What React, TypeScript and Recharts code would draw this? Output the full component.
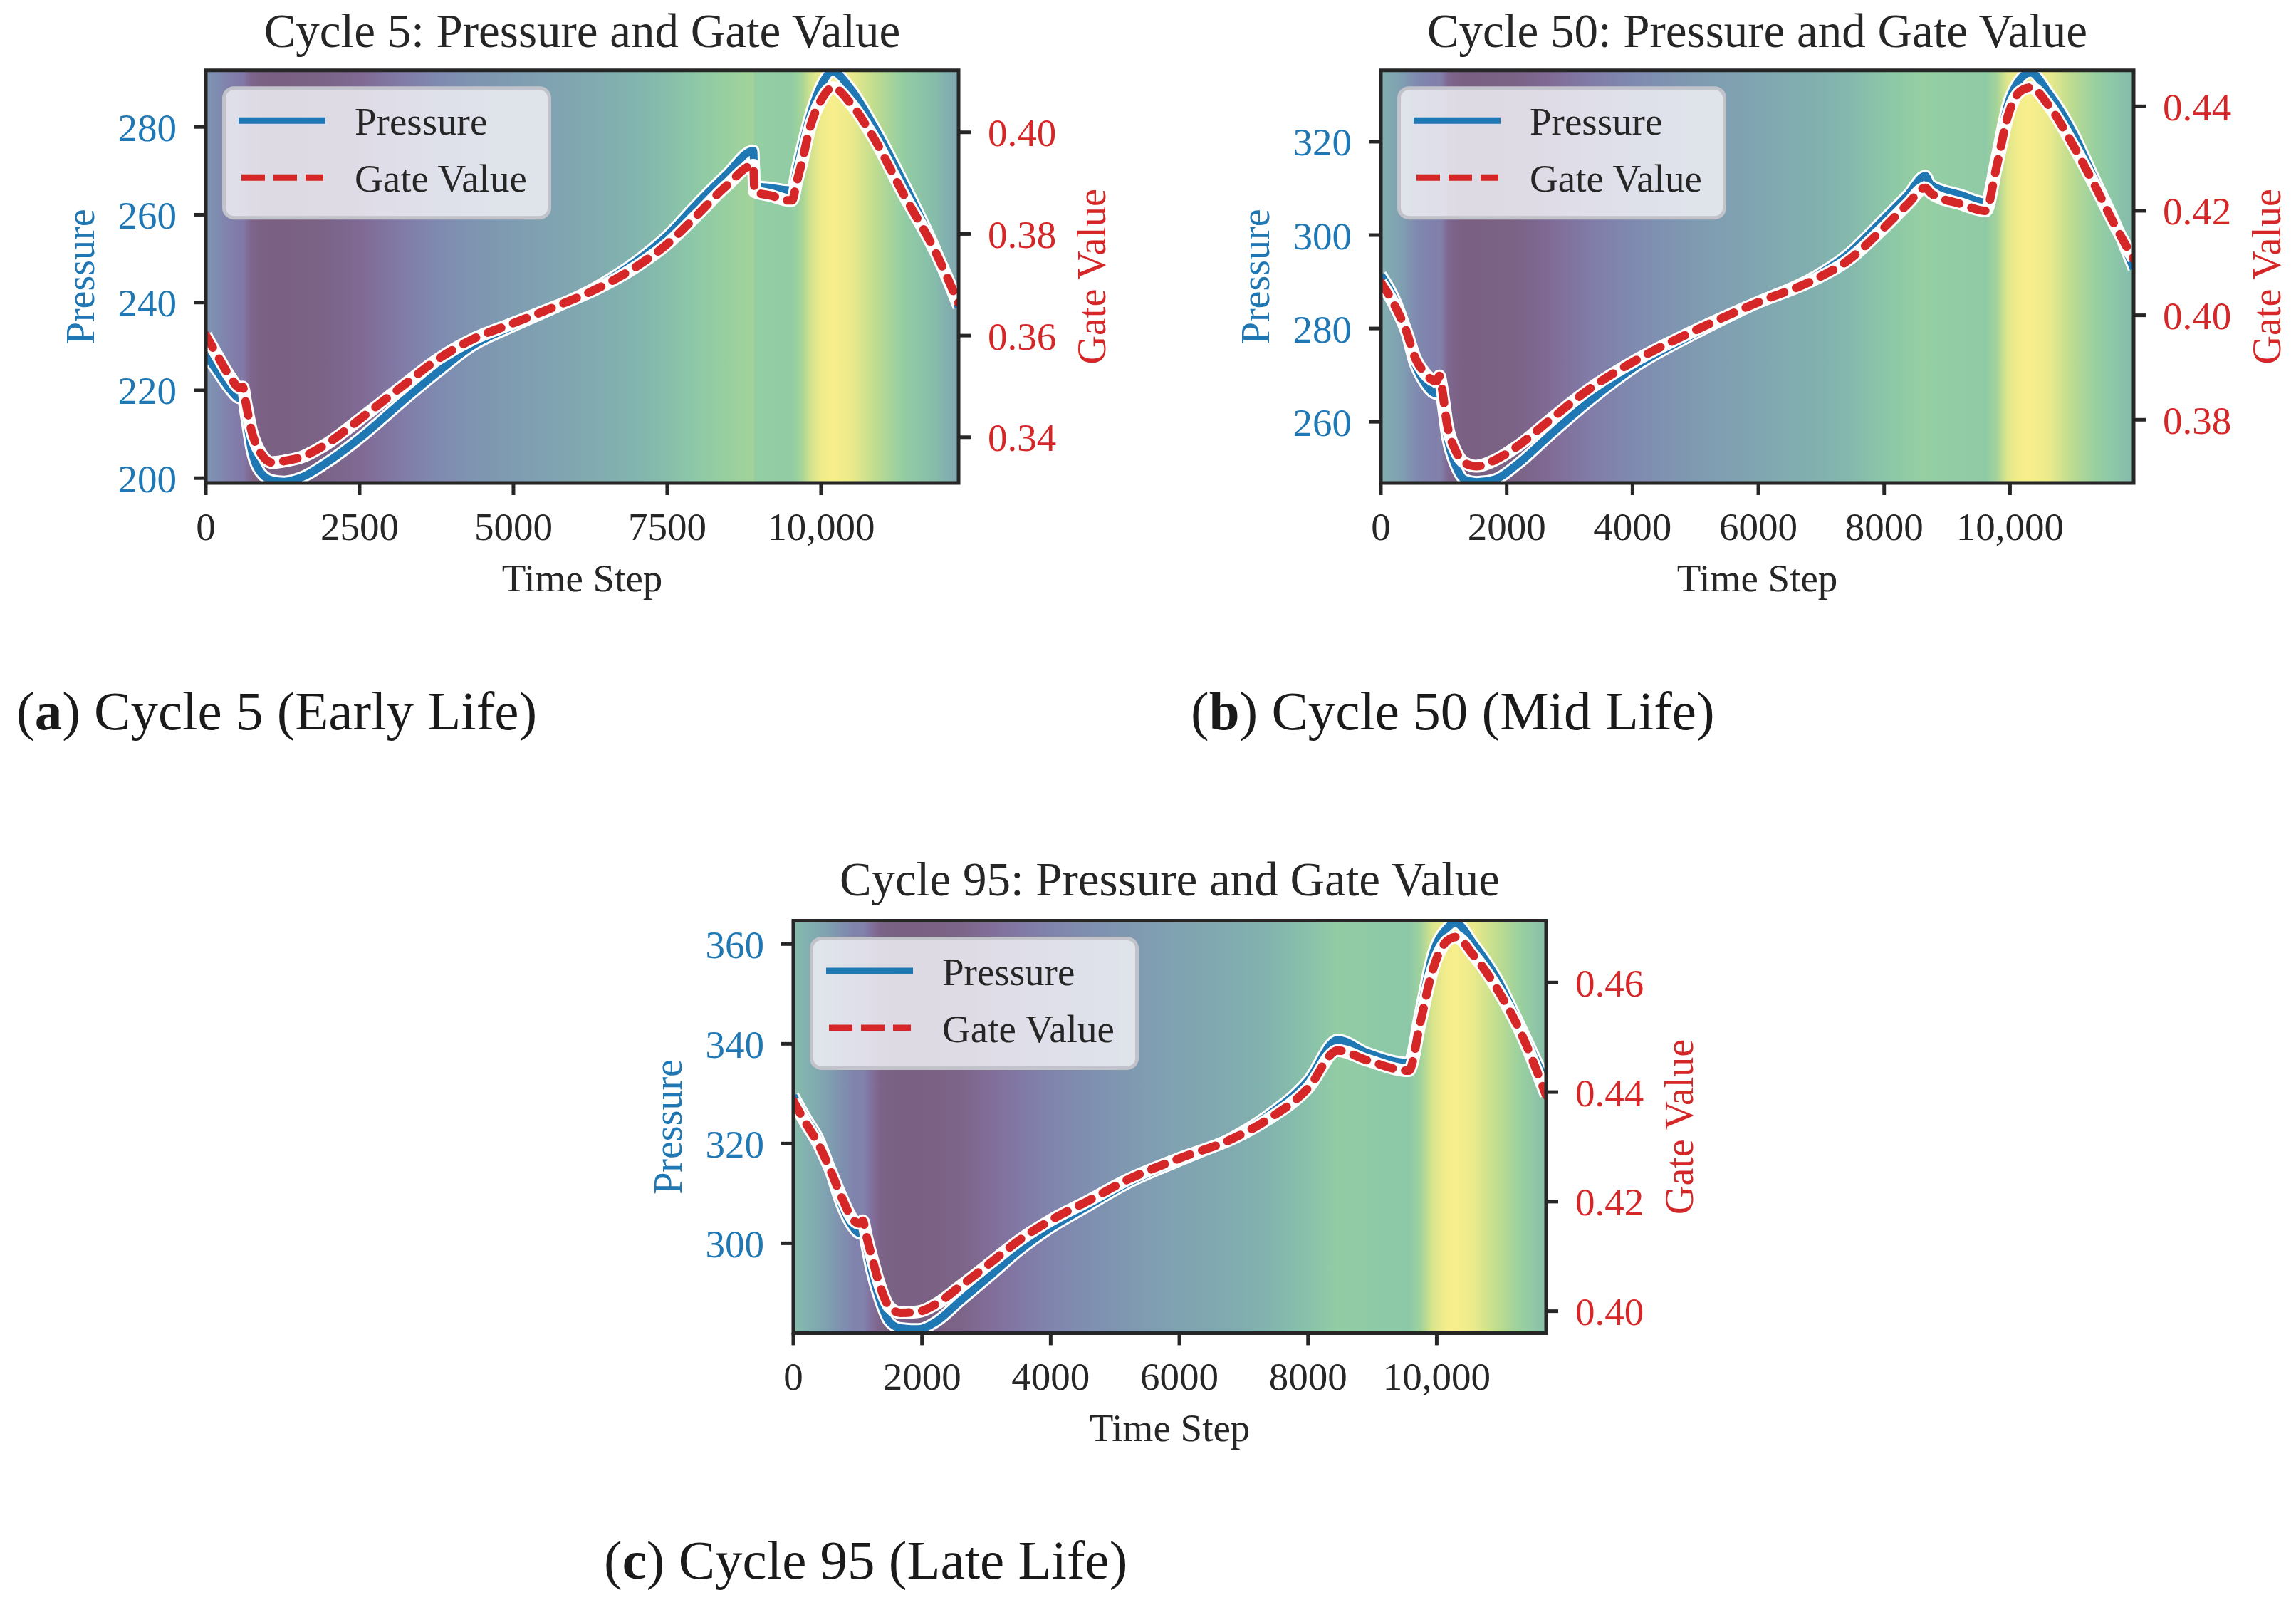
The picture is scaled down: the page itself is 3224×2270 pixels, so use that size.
import React from 'react';
import { LineChart, Line, XAxis, YAxis, ReferenceArea } from 'recharts';

// ---------------- DATA ----------------
// Cycle 5 (Early Life)
const cycle5Time = [0, 200, 400, 550, 600, 650, 740, 890, 1080, 1270, 1560, 1940, 2520, 3190, 3765, 4340, 4990, 5680, 6355, 7025, 7490, 7985, 8465, 8900, 8920, 9200, 9470, 9530, 9600, 9700, 9810, 10000, 10190, 10480, 10865, 11345, 11825, 12235];
const cycle5Pressure = [228.0, 224.1, 220.1, 218.2, 218.4, 214.5, 206.7, 201.3, 199.5, 199.2, 200.2, 203.3, 209.3, 217.4, 224.1, 230.2, 234.6, 238.9, 243.6, 249.7, 255.1, 262.5, 269.2, 274.6, 266.6, 266.1, 265.6, 265.6, 270.0, 276.0, 282.0, 289.4, 292.6, 288.7, 280.0, 267.2, 253.1, 239.0];
const cycle5Gate = [0.3601, 0.3558, 0.3518, 0.3497, 0.3499, 0.3468, 0.3414, 0.3369, 0.3350, 0.3353, 0.3361, 0.3385, 0.3437, 0.3500, 0.3553, 0.3593, 0.3624, 0.3657, 0.3692, 0.3738, 0.3779, 0.3837, 0.3895, 0.3935, 0.3883, 0.3875, 0.3866, 0.3866, 0.3900, 0.3947, 0.4005, 0.4063, 0.4088, 0.4057, 0.3987, 0.3877, 0.3773, 0.3664];
const cycle5TimeTicks = [0, 2500, 5000, 7500, 10000];
const cycle5PressureTicks = [200, 220, 240, 260, 280];
const cycle5GateTicks = [0.34, 0.36, 0.38, 0.40];
const cycle5TimeDomain: [number, number] = [0, 12235];
const cycle5PressureDomain: [number, number] = [198.9, 292.9];
const cycle5GateDomain: [number, number] = [0.3310, 0.4122];

// Cycle 50 (Mid Life)
const cycle50Time = [0, 210, 400, 540, 680, 885, 930, 960, 1055, 1195, 1335, 1520, 1800, 2180, 2650, 3305, 4055, 4995, 6000, 6870, 7435, 8000, 8375, 8655, 8740, 9220, 9615, 9780, 9970, 10155, 10325, 10625, 11000, 11375, 11660, 11965];
const cycle50Pressure = [291.5, 286.5, 279.5, 272.5, 268.7, 266.0, 267.6, 265.8, 256.7, 250.4, 247.6, 247.1, 247.6, 251.0, 256.7, 264.3, 271.9, 278.9, 285.6, 290.9, 296.0, 303.5, 308.6, 312.7, 310.8, 308.6, 307.0, 316.2, 328.2, 333.3, 334.8, 330.2, 322.0, 311.1, 302.9, 292.8];
const cycle50Gate = [0.4063, 0.4021, 0.3971, 0.3920, 0.3892, 0.3874, 0.3884, 0.3868, 0.3790, 0.3739, 0.3717, 0.3711, 0.3722, 0.3750, 0.3796, 0.3858, 0.3914, 0.3971, 0.4025, 0.4067, 0.4106, 0.4168, 0.4213, 0.4244, 0.4234, 0.4213, 0.4200, 0.4281, 0.4383, 0.4428, 0.4436, 0.4400, 0.4326, 0.4242, 0.4174, 0.4108];
const cycle50TimeTicks = [0, 2000, 4000, 6000, 8000, 10000];
const cycle50PressureTicks = [260, 280, 300, 320];
const cycle50GateTicks = [0.38, 0.40, 0.42, 0.44];
const cycle50TimeDomain: [number, number] = [0, 11965];
const cycle50PressureDomain: [number, number] = [246.9, 335.3];
const cycle50GateDomain: [number, number] = [0.3679, 0.4469];

// Cycle 95 (Late Life)
const cycle95Time = [0, 200, 390, 570, 750, 935, 1030, 1080, 1130, 1215, 1350, 1490, 1670, 1945, 2220, 2590, 3050, 3505, 4000, 4610, 5160, 6000, 6810, 7360, 8000, 8460, 8920, 9565, 9745, 9930, 10160, 10295, 10570, 10940, 11305, 11700];
const cycle95Pressure = [329.6, 325.0, 320.9, 314.8, 307.7, 303.1, 302.0, 303.2, 300.0, 294.5, 288.4, 284.3, 283.0, 282.8, 284.3, 288.4, 293.4, 298.5, 303.1, 307.7, 311.8, 316.6, 321.1, 325.5, 332.6, 340.8, 338.2, 336.2, 346.4, 357.6, 363.2, 364.2, 360.1, 353.0, 343.3, 332.3];
const cycle95Gate = [0.4384, 0.4342, 0.4305, 0.4259, 0.4208, 0.4166, 0.4160, 0.4165, 0.4140, 0.4101, 0.4045, 0.4008, 0.3997, 0.3999, 0.4013, 0.4045, 0.4087, 0.4129, 0.4166, 0.4203, 0.4238, 0.4279, 0.4314, 0.4349, 0.4407, 0.4476, 0.4458, 0.4439, 0.4527, 0.4620, 0.4676, 0.4683, 0.4650, 0.4588, 0.4509, 0.4394];
const cycle95TimeTicks = [0, 2000, 4000, 6000, 8000, 10000];
const cycle95PressureTicks = [300, 320, 340, 360];
const cycle95GateTicks = [0.40, 0.42, 0.44, 0.46];
const cycle95TimeDomain: [number, number] = [0, 11700];
const cycle95PressureDomain: [number, number] = [282.0, 364.7];
const cycle95GateDomain: [number, number] = [0.3960, 0.4713];

// ---------------- STYLE ----------------
const PAGE_W = 3224;
const PAGE_H = 2270;
const BLUE = '#1f77b4';
const RED = '#d62728';
const INK = '#262626';
const SERIF = '"Liberation Serif", "Times New Roman", Times, serif';
const RIGHT_W = 150;
const BOTTOM_H = 120;

// background colour map (viridis-like, washed)
const CMAP: [number, number, number, number][] = [
  [0.0, 122, 97, 131],
  [0.08, 124, 100, 137],
  [0.14, 130, 110, 155],
  [0.2, 129, 122, 168],
  [0.27, 127, 137, 176],
  [0.35, 127, 152, 177],
  [0.43, 128, 166, 177],
  [0.52, 130, 180, 174],
  [0.62, 138, 197, 169],
  [0.72, 148, 206, 163],
  [0.8, 165, 212, 152],
  [0.87, 195, 222, 142],
  [0.93, 228, 232, 138],
  [1.0, 248, 238, 140],
];

function cmap(v: number): string {
  const x = Math.max(0, Math.min(1, v));
  for (let i = 1; i < CMAP.length; i++) {
    const a = CMAP[i - 1];
    const b = CMAP[i];
    if (x <= b[0]) {
      const f = (x - a[0]) / (b[0] - a[0]);
      const r = Math.round(a[1] + (b[1] - a[1]) * f);
      const g = Math.round(a[2] + (b[2] - a[2]) * f);
      const bl = Math.round(a[3] + (b[3] - a[3]) * f);
      return `rgb(${r},${g},${bl})`;
    }
  }
  const l = CMAP[CMAP.length - 1];
  return `rgb(${l[1]},${l[2]},${l[3]})`;
}

const fmtTime = (v: number) => (v >= 10000 ? v.toLocaleString('en-US') : String(v));
const fmtGate = (v: number) => v.toFixed(2);

type Box = { l: number; r: number; t: number; b: number };
type PanelDef = {
  id: string;
  title: string;
  capLetter: string;
  capRest: string;
  capX: number;
  capY: number;
  titleGap: number;
  time: number[];
  pressure: number[];
  gate: number[];
  timeTicks: number[];
  pressureTicks: number[];
  gateTicks: number[];
  timeDomain: [number, number];
  pressureDomain: [number, number];
  gateDomain: [number, number];
  box: Box;
};

const PANELS: PanelDef[] = [
  {
    id: 'a', title: 'Cycle 5: Pressure and Gate Value', capLetter: 'a', capRest: ' Cycle 5 (Early Life)',
    capX: 23, capY: 1024, titleGap: 33,
    time: cycle5Time, pressure: cycle5Pressure, gate: cycle5Gate,
    timeTicks: cycle5TimeTicks, pressureTicks: cycle5PressureTicks, gateTicks: cycle5GateTicks,
    timeDomain: cycle5TimeDomain, pressureDomain: cycle5PressureDomain, gateDomain: cycle5GateDomain,
    box: { l: 289, r: 1346, t: 98.7, b: 678 },
  },
  {
    id: 'b', title: 'Cycle 50: Pressure and Gate Value', capLetter: 'b', capRest: ' Cycle 50 (Mid Life)',
    capX: 1672, capY: 1024, titleGap: 33,
    time: cycle50Time, pressure: cycle50Pressure, gate: cycle50Gate,
    timeTicks: cycle50TimeTicks, pressureTicks: cycle50PressureTicks, gateTicks: cycle50GateTicks,
    timeDomain: cycle50TimeDomain, pressureDomain: cycle50PressureDomain, gateDomain: cycle50GateDomain,
    box: { l: 1939, r: 2996, t: 98.7, b: 678 },
  },
  {
    id: 'c', title: 'Cycle 95: Pressure and Gate Value', capLetter: 'c', capRest: ' Cycle 95 (Late Life)',
    capX: 848, capY: 2216, titleGap: 35,
    time: cycle95Time, pressure: cycle95Pressure, gate: cycle95Gate,
    timeTicks: cycle95TimeTicks, pressureTicks: cycle95PressureTicks, gateTicks: cycle95GateTicks,
    timeDomain: cycle95TimeDomain, pressureDomain: cycle95PressureDomain, gateDomain: cycle95GateDomain,
    box: { l: 1114, r: 2171, t: 1292.4, b: 1871.4 },
  },
];

function PanelChart({ p }: { p: PanelDef }) {
  const rows = p.time.map((t, i) => ({ t, pressure: p.pressure[i], gate: p.gate[i] }));
  const gmin = Math.min(...p.gate);
  const gmax = Math.max(...p.gate);
  const [x0, x1] = p.timeDomain;
  const stops = p.time.map((t, i) => ({
    off: (t - x0) / (x1 - x0),
    color: cmap((p.gate[i] - gmin) / (gmax - gmin)),
  }));
  const { l, r, t, b } = p.box;
  const tickStyle = { fontSize: 55, fontFamily: SERIF };
  const tickLine = { stroke: INK, strokeWidth: 5 };
  return (
    <div style={{ position: 'absolute', left: 0, top: 0 }}>
      <LineChart
        width={PAGE_W}
        height={PAGE_H}
        data={rows}
        margin={{ top: t, left: 0, right: PAGE_W - r - RIGHT_W, bottom: PAGE_H - b - BOTTOM_H }}
      >
        <defs>
          <linearGradient id={`bg-${p.id}`} x1="0" y1="0" x2="1" y2="0">
            {stops.map((s, i) => (
              <stop key={i} offset={s.off} stopColor={s.color} />
            ))}
          </linearGradient>
        </defs>
        <XAxis
          dataKey="t"
          type="number"
          domain={p.timeDomain}
          ticks={p.timeTicks}
          allowDataOverflow
          interval={0}
          height={BOTTOM_H}
          axisLine={false}
          tickLine={tickLine}
          tickSize={17}
          tickMargin={24}
          tick={{ ...tickStyle, fill: INK }}
          tickFormatter={fmtTime}
        />
        <YAxis
          yAxisId="p"
          orientation="left"
          type="number"
          domain={p.pressureDomain}
          ticks={p.pressureTicks}
          allowDataOverflow
          interval={0}
          width={l}
          axisLine={false}
          tickLine={tickLine}
          tickSize={17}
          tickMargin={24}
          tick={{ ...tickStyle, fill: BLUE }}
        />
        <YAxis
          yAxisId="g"
          orientation="right"
          type="number"
          domain={p.gateDomain}
          ticks={p.gateTicks}
          allowDataOverflow
          interval={0}
          width={RIGHT_W}
          axisLine={false}
          tickLine={tickLine}
          tickSize={17}
          tickMargin={24}
          tick={{ ...tickStyle, fill: RED }}
          tickFormatter={fmtGate}
        />
        <ReferenceArea
          yAxisId="p"
          x1={x0}
          x2={x1}
          y1={p.pressureDomain[0]}
          y2={p.pressureDomain[1]}
          fill={`url(#bg-${p.id})`}
          fillOpacity={1}
          stroke="none"
          ifOverflow="visible"
        />
        <Line yAxisId="p" dataKey="pressure" type="monotone" stroke="#ffffff" strokeWidth={17} strokeLinejoin="round" dot={false} activeDot={false} isAnimationActive={false} />
        <Line yAxisId="p" dataKey="pressure" type="monotone" stroke={BLUE} strokeWidth={11} strokeLinejoin="round" dot={false} activeDot={false} isAnimationActive={false} />
        <Line yAxisId="g" dataKey="gate" type="monotone" stroke="#ffffff" strokeWidth={18} strokeLinejoin="round" dot={false} activeDot={false} isAnimationActive={false} />
        <Line yAxisId="g" dataKey="gate" type="monotone" stroke={RED} strokeWidth={12} strokeDasharray="20 18" strokeLinecap="round" strokeLinejoin="round" dot={false} activeDot={false} isAnimationActive={false} />
        <ReferenceArea
          yAxisId="p"
          x1={x0}
          x2={x1}
          y1={p.pressureDomain[0]}
          y2={p.pressureDomain[1]}
          fill="none"
          stroke={INK}
          strokeWidth={5}
          ifOverflow="visible"
          zIndex={1500}
        />
      </LineChart>
    </div>
  );
}

function Decorations() {
  return (
    <svg
      width={PAGE_W}
      height={PAGE_H}
      style={{ position: 'absolute', left: 0, top: 0, pointerEvents: 'none' }}
    >
      {PANELS.map((p) => {
        const { l, r, t, b } = p.box;
        const cx = (l + r) / 2;
        const cy = (t + b) / 2;
        const pl = l - 157;
        const gl = r + 206;
        return (
          <g key={p.id} fontFamily={SERIF}>
            <text x={cx} y={t - p.titleGap} textAnchor="middle" fontSize={67} fill={INK}>
              {p.title}
            </text>
            <text x={cx} y={b + 152} textAnchor="middle" fontSize={55} fill={INK}>
              Time Step
            </text>
            <text x={pl} y={cy} transform={`rotate(-90 ${pl} ${cy})`} textAnchor="middle" fontSize={56} fill={BLUE}>
              Pressure
            </text>
            <text x={gl} y={cy} transform={`rotate(-90 ${gl} ${cy})`} textAnchor="middle" fontSize={56} fill={RED}>
              Gate Value
            </text>
            {/* legend */}
            <rect x={l + 25.5} y={t + 25} width={457} height={182} rx={14} ry={14} fill="rgb(240,240,245)" fillOpacity={0.85} stroke="#c2c2cb" strokeWidth={5} />
            <line x1={l + 46} x2={l + 168} y1={t + 70.6} y2={t + 70.6} stroke={BLUE} strokeWidth={9} />
            <line x1={l + 50} x2={l + 165} y1={t + 150.6} y2={t + 150.6} stroke={RED} strokeWidth={9} strokeDasharray="33 12" />
            <text x={l + 209} y={t + 90.3} fontSize={55} fill={INK}>Pressure</text>
            <text x={l + 209} y={t + 170.3} fontSize={55} fill={INK}>Gate Value</text>
            {/* sub caption */}
            <text x={p.capX} y={p.capY} fontSize={77} fill="#1a1a1a">
              <tspan>(</tspan>
              <tspan fontWeight="bold">{p.capLetter}</tspan>
              <tspan>)</tspan>
              <tspan>{p.capRest}</tspan>
            </text>
          </g>
        );
      })}
    </svg>
  );
}

export default function App() {
  return (
    <div style={{ position: 'absolute', left: 0, top: 0, width: PAGE_W, height: PAGE_H, background: '#ffffff', overflow: 'hidden' }}>
      {PANELS.map((p) => (
        <PanelChart key={p.id} p={p} />
      ))}
      <Decorations />
    </div>
  );
}
